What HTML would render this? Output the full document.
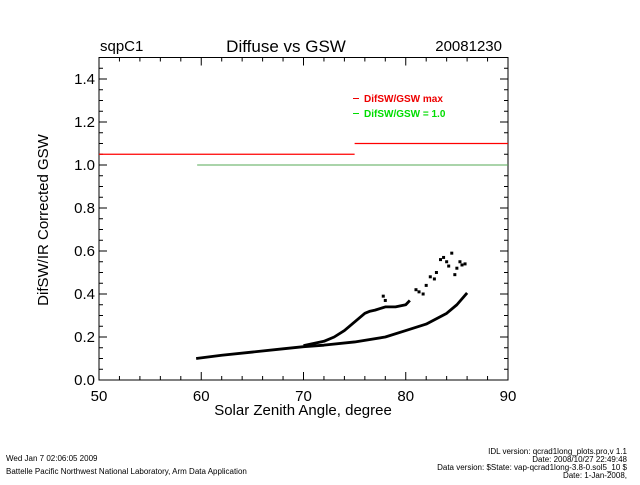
<!DOCTYPE html>
<html><head><meta charset="utf-8"><style>
body{margin:0;background:#fff;}
svg text{font-family:"Liberation Sans",sans-serif;}
</style></head><body>
<svg id="c" width="640" height="480" xmlns="http://www.w3.org/2000/svg">
<rect width="640" height="480" fill="#fff"/>
<g id="g"></g>
<text x="100" y="51" font-size="15">sqpC1</text>
<text x="286" y="52" font-size="17" text-anchor="middle">Diffuse vs GSW</text>
<text x="502" y="51" font-size="15" text-anchor="end">20081230</text>
<text x="303" y="415" font-size="15" text-anchor="middle">Solar Zenith Angle, degree</text>
<text transform="translate(48,220) rotate(-90)" font-size="15" text-anchor="middle">DifSW/IR Corrected GSW</text>
<g>
<line x1="353" y1="98.5" x2="359" y2="98.5" stroke="#e00"/>
<text x="364" y="102" font-size="10" fill="#e00" font-weight="bold">DifSW/GSW max</text>
<line x1="353" y1="113.5" x2="359" y2="113.5" stroke="#0d0"/>
<text x="364" y="117" font-size="10" fill="#0d0" font-weight="bold">DifSW/GSW = 1.0</text>
</g>
<text x="6" y="461" font-size="8">Wed Jan  7 02:06:05 2009</text>
<text x="6" y="474" font-size="8">Battelle Pacific Northwest National Laboratory, Arm Data Application</text>
<g font-size="8" text-anchor="end">
<text x="627" y="454">IDL version: qcrad1long_plots.pro,v 1.1</text>
<text x="627" y="462">Date: 2008/10/27 22:49:48</text>
<text x="627" y="470">Data version: $State: vap-qcrad1long-3.8-0.sol5_10 $</text>
<text x="627" y="478">Date: 1-Jan-2008,</text>
</g>
</svg>
<script>
const xTicks=[50,60,70,80,90];
const yTicks=[0.0,0.2,0.4,0.6,0.8,1.0,1.2,1.4];
const lowerX=[59.5,62,65,68,70,72,75,78,80,82,84,85,86];
const lowerY=[0.10,0.115,0.13,0.145,0.155,0.162,0.177,0.20,0.23,0.26,0.31,0.35,0.405];
const upperX=[70,72,73,74,75,76,76.5,77,78,79,80,80.4];
const upperY=[0.16,0.18,0.20,0.23,0.27,0.31,0.32,0.325,0.34,0.34,0.35,0.37];
const scatX=[77.8,78,81,81.3,81.7,82,82.4,82.8,83,83.4,83.7,84,84.2,84.5,84.8,85,85.3,85.5,85.8];
const scatY=[0.39,0.37,0.42,0.41,0.40,0.44,0.48,0.47,0.50,0.56,0.57,0.55,0.53,0.59,0.49,0.52,0.55,0.535,0.54];
const maxSeg=[[50,75,1.05],[75,90,1.10]];
const oneSeg=[[59.6,90,1.0]];
const X0=99,X1=508,Y0=380,Y1=57.5;
const sx=v=>X0+(v-50)/40*(X1-X0);
const sy=v=>Y0-(v/1.5)*(Y0-Y1);
const g=document.getElementById('g');
const NS='http://www.w3.org/2000/svg';
function el(t,a,txt){const e=document.createElementNS(NS,t);for(const k in a)e.setAttribute(k,a[k]);if(txt!==undefined)e.textContent=txt;g.appendChild(e);return e;}
let e;
e=el('rect',{x:X0,y:Y1,width:X1-X0,height:Y0-Y1,fill:'none',stroke:'#000','stroke-width':1});


for(let v=50;v<=90;v+=2){const x=sx(v);const L=(v%10===0)?8:4;
e=el('line',{x1:x,y1:Y0,x2:x,y2:Y0-L,stroke:'#000'});
e=el('line',{x1:x,y1:Y1,x2:x,y2:Y1+L,stroke:'#000'});}
xTicks.forEach(v=>{e=el('text',{x:sx(v),y:Y0+21,'font-size':15,'text-anchor':'middle'},String(v));});
for(let i=0;i<=30;i++){const v=i*0.05;const y=sy(v);const L=(i%4===0)?8:4;
e=el('line',{x1:X0,y1:y,x2:X0+L,y2:y,stroke:'#000'});
e=el('line',{x1:X1,y1:y,x2:X1-L,y2:y,stroke:'#000'});}
yTicks.forEach(v=>{e=el('text',{x:X0-4,y:sy(v)+5,'font-size':15,'text-anchor':'end'},v.toFixed(1));});
maxSeg.forEach(s=>{e=el('line',{x1:sx(s[0]),y1:sy(s[2]),x2:sx(s[1]),y2:sy(s[2]),stroke:'#ff0000','stroke-width':1.2});});
oneSeg.forEach(s=>{e=el('line',{x1:sx(s[0]),y1:sy(s[2]),x2:sx(s[1]),y2:sy(s[2]),stroke:'#5a5','stroke-width':1});});
function poly(xs,ys,name){e=el('polyline',{points:xs.map((v,i)=>sx(v)+','+sy(ys[i])).join(' '),fill:'none',stroke:'#000','stroke-width':2.8,'stroke-linejoin':'round'});}
poly(lowerX,lowerY,'lower-branch-series');
poly(upperX,upperY,'upper-branch-series');
scatX.forEach((v,i)=>{e=el('rect',{x:sx(v)-1.5,y:sy(scatY[i])-1.5,width:3,height:3,fill:'#000'});});
</script>
</body></html>
